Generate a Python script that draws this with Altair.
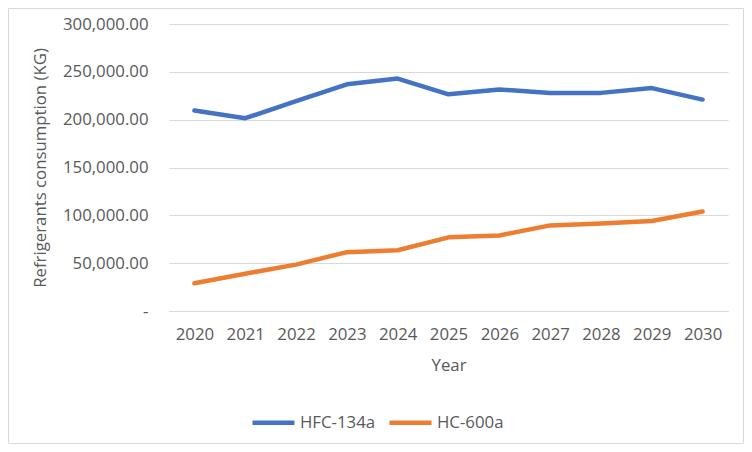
import altair as alt
import pandas as pd

years = ["2020", "2021", "2022", "2023", "2024", "2025", "2026", "2027", "2028", "2029", "2030"]
hfc_134a = [209500, 201500, 219500, 237000, 243000, 226500, 231500, 228000, 228000, 233000, 221000]
hc_600a = [29000, 39000, 48500, 61500, 63500, 77000, 79000, 89500, 91500, 94000, 104000]
series = ["HFC-134a", "HC-600a"]
colors = ["#4472C4", "#ED7D31"]

rows = []
for y, v in zip(years, hfc_134a):
    rows.append({"Year": y, "Series": series[0], "Value": v})
for y, v in zip(years, hc_600a):
    rows.append({"Year": y, "Series": series[1], "Value": v})
df = pd.DataFrame(rows)

FONT = "Open Sans"
TXT = "#595959"
FS = 16.8

lines = alt.Chart(df).mark_line(strokeWidth=4.5, strokeCap="round", strokeJoin="round").encode(
    x=alt.X("Year:O", scale=alt.Scale(type="point", padding=0.5),
            axis=alt.Axis(title="Year", labelAngle=0, ticks=False, domainColor="#d9d9d9",
                          labelPadding=15, titlePadding=15, grid=False)),
    y=alt.Y("Value:Q", scale=alt.Scale(domain=[0, 300000]),
            axis=alt.Axis(title="Refrigerants consumption (KG)", values=[0, 50000, 100000, 150000, 200000, 250000, 300000],
                          labelExpr="datum.value == 0 ? '-\u00a0' : format(datum.value, ',.2f')",
                          ticks=False, domain=False, gridColor="#d9d9d9", labelPadding=21, titlePadding=13)),
    color=alt.Color("Series:N", scale=alt.Scale(domain=series, range=colors),
                    legend=alt.Legend(title=None, orient="none", direction="horizontal",
                                      legendX=81, legendY=375, symbolType="stroke",
                                      symbolSize=1764, symbolStrokeWidth=4.5, columnPadding=4,
                                      labelOffset=3)),
)

border = alt.Chart(pd.DataFrame({"a": [0]})).mark_rect(fill=None, stroke="#d9d9d9", strokeWidth=1).encode(
    x=alt.value(-160.5), x2=alt.value(574.5), y=alt.value(-15.5), y2=alt.value(419.5)
)

chart = alt.layer(border, lines).properties(
    width=559, height=287,
    autosize=alt.AutoSizeParams(type="none"),
    padding={"left": 161, "top": 16, "right": 16, "bottom": 133},
).configure(font=FONT).configure_view(stroke=None).configure_axis(
    labelFont=FONT, titleFont=FONT, labelFontSize=FS, titleFontSize=FS,
    labelColor=TXT, titleColor=TXT, titleFontWeight="normal",
).configure_legend(labelFont=FONT, labelFontSize=FS, labelColor=TXT)

chart.save("out.html", embed_options={"renderer": "svg", "actions": False})
